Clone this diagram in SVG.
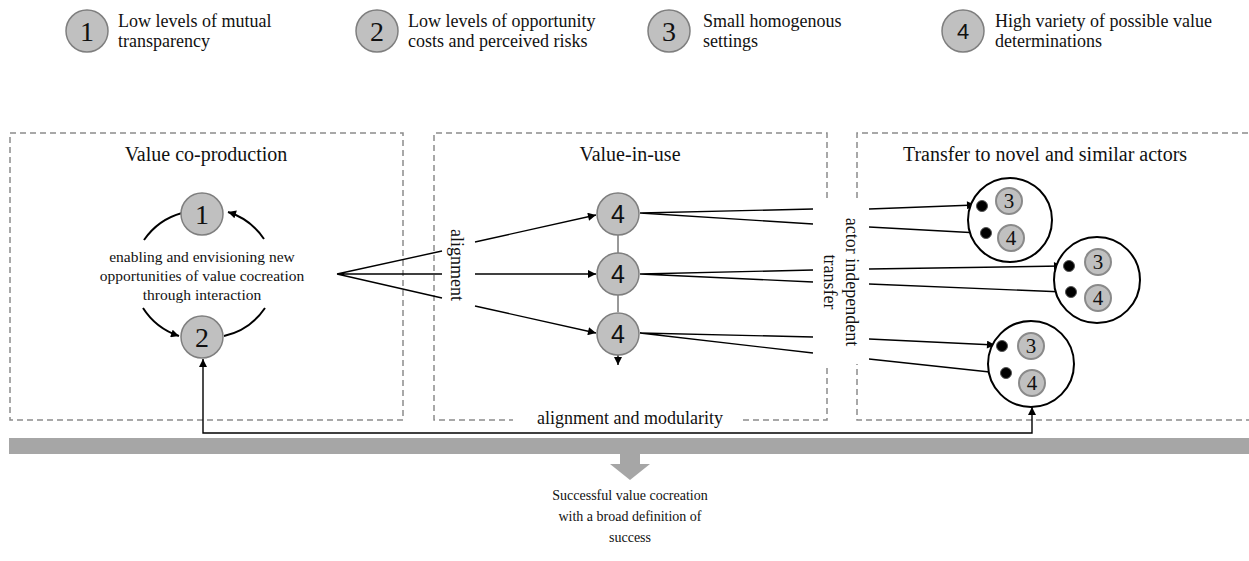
<svg xmlns="http://www.w3.org/2000/svg" width="1249" height="561" viewBox="0 0 1249 561">
  <defs>
    <marker id="arr" viewBox="0 0 10 10" refX="10" refY="5" markerWidth="9" markerHeight="8" markerUnits="userSpaceOnUse" orient="auto-start-reverse">
      <path d="M0,0 L10,5 L0,10 Z" fill="#000"/>
    </marker>
    <style>
      .t { font-family: "Liberation Serif", "Times New Roman", serif; fill: #111; }
      .s { font-family: "Liberation Sans", Arial, sans-serif; fill: #111; }
      .leg { font-size: 18px; }
      .title { font-size: 20px; text-anchor: middle; }
      .num { fill: #c0c0c0; stroke: #7f7f7f; stroke-width: 1.5; }
      .sm { fill: #c0c0c0; stroke: #8a8a8a; stroke-width: 2; }
      .box { fill: none; stroke: #8c8c8c; stroke-width: 1.5; stroke-dasharray: 6 4; }
      .ln { fill: none; stroke: #000; stroke-width: 1.4; }
      .arc { fill: none; stroke: #000; stroke-width: 2; }
      .actor { fill: #fff; stroke: #000; stroke-width: 2; }
      .dot { fill: #000; stroke: #555; stroke-width: 1; }
    </style>
  </defs>

  <!-- legend -->
  <g id="legend-1">
    <circle class="num" cx="87" cy="31" r="21"/>
    <text class="t" x="87" y="41" font-size="28" text-anchor="middle">1</text>
    <text class="t leg" x="118" y="27">Low levels of mutual</text>
    <text class="t leg" x="118" y="47">transparency</text>
  </g>
  <g id="legend-2">
    <circle class="num" cx="377" cy="31" r="21"/>
    <text class="t" x="377" y="41" font-size="28" text-anchor="middle">2</text>
    <text class="t leg" x="408" y="27">Low levels of opportunity</text>
    <text class="t leg" x="408" y="47">costs and perceived risks</text>
  </g>
  <g id="legend-3">
    <circle class="num" cx="669" cy="31" r="21"/>
    <text class="t" x="669" y="41" font-size="28" text-anchor="middle">3</text>
    <text class="t leg" x="703" y="27">Small homogenous</text>
    <text class="t leg" x="703" y="47">settings</text>
  </g>
  <g id="legend-4">
    <circle class="num" cx="963" cy="31" r="21"/>
    <text class="s" x="963" y="39" font-size="22" text-anchor="middle">4</text>
    <text class="t leg" x="995" y="27">High variety of possible value</text>
    <text class="t leg" x="995" y="47">determinations</text>
  </g>

  <!-- phase frames -->
  <g id="frame-coproduction">
    <rect class="box" x="10" y="133" width="393" height="287"/>
    <text class="t title" x="206" y="161">Value co-production</text>
  </g>
  <g id="frame-value-in-use">
    <path class="box" d="M827,198 V133 H434 V420 H513 M743,420 H827 V366"/>
    <text class="t title" x="630" y="161">Value-in-use</text>
    <text class="t" x="630" y="424" font-size="18" text-anchor="middle">alignment  and modularity</text>
  </g>
  <g id="frame-transfer">
    <path class="box" d="M857,198 V133 H1252 M1252,420 H857 V364"/>
    <text class="t title" x="1045" y="161">Transfer to novel and similar actors</text>
  </g>

  <!-- connectors -->
  <g id="connectors">
    <!-- interaction cycle -->
    <path class="arc" d="M182,213 A68,68 0 0 0 144,240"/>
    <path class="arc" d="M264,239 A68,68 0 0 0 228,212" marker-end="url(#arr)"/>
    <path class="arc" d="M143,308 A68,68 0 0 0 179,336" marker-end="url(#arr)"/>
    <path class="arc" d="M224,336 A68,68 0 0 0 265,308"/>

    <!-- alignment fan -->
    <path class="ln" d="M337,274 L442,251 M337,274 L442,274 M337,274 L442,298"/>
    <line class="ln" x1="475" y1="242" x2="596" y2="215" marker-end="url(#arr)"/>
    <line class="ln" x1="475" y1="274" x2="596" y2="274" marker-end="url(#arr)"/>
    <line class="ln" x1="475" y1="306" x2="596" y2="333" marker-end="url(#arr)"/>

    <!-- links between value determinations -->
    <path d="M618,235 V253 M618,295 V312" stroke="#333" stroke-width="1"/>
    <line class="ln" x1="618" y1="355" x2="618" y2="365" marker-end="url(#arr)"/>

    <!-- transfer lines -->
    <path class="ln" d="M640,213 L813,209 M640,213 L813,224 M640,274 L813,270 M640,274 L813,282 M640,333 L813,337 M640,333 L813,353"/>
    <line class="ln" x1="869" y1="209" x2="975" y2="205" marker-end="url(#arr)"/>
    <line class="ln" x1="869" y1="227" x2="979" y2="233" marker-end="url(#arr)"/>
    <line class="ln" x1="869" y1="269" x2="1062" y2="266" marker-end="url(#arr)"/>
    <line class="ln" x1="869" y1="284" x2="1064" y2="292" marker-end="url(#arr)"/>
    <line class="ln" x1="869" y1="339" x2="995" y2="345" marker-end="url(#arr)"/>
    <line class="ln" x1="869" y1="359" x2="999" y2="373" marker-end="url(#arr)"/>

    <!-- feedback loop -->
    <polyline class="ln" points="203,359 203,433 1032,433 1032,407" stroke-width="1.2" marker-start="url(#arr)" marker-end="url(#arr)"/>

    <!-- vertical labels -->
    <text class="t" font-size="18" text-anchor="middle" dominant-baseline="central" transform="translate(457,265) rotate(90)">alignment</text>
    <text class="t" font-size="18" text-anchor="middle" transform="translate(846,282) rotate(90)">actor independent</text>
    <text class="t" font-size="18" text-anchor="middle" transform="translate(824,282) rotate(90)">transfer</text>
  </g>

  <!-- co-production nodes -->
  <g id="node-1">
    <circle class="num" cx="202" cy="214" r="21"/>
    <text class="t" x="202" y="224" font-size="28" text-anchor="middle">1</text>
  </g>
  <g id="node-2">
    <circle class="num" cx="202" cy="337" r="21"/>
    <text class="t" x="202" y="347" font-size="28" text-anchor="middle">2</text>
  </g>
  <g id="center-text">
    <text class="t" x="202" y="262" font-size="15.5" text-anchor="middle">enabling and envisioning new</text>
    <text class="t" x="202" y="281" font-size="15.5" text-anchor="middle">opportunities of value cocreation</text>
    <text class="t" x="202" y="300" font-size="15.5" text-anchor="middle">through interaction</text>
  </g>

  <!-- value-in-use nodes -->
  <g id="node-4a">
    <circle class="num" cx="618" cy="214" r="21"/>
    <text class="s" x="618" y="223" font-size="25" text-anchor="middle">4</text>
  </g>
  <g id="node-4b">
    <circle class="num" cx="618" cy="274" r="21"/>
    <text class="s" x="618" y="283" font-size="25" text-anchor="middle">4</text>
  </g>
  <g id="node-4c">
    <circle class="num" cx="618" cy="334" r="21"/>
    <text class="s" x="618" y="343" font-size="25" text-anchor="middle">4</text>
  </g>

  <!-- actors -->
  <g id="actor-a">
    <circle class="actor" cx="1010" cy="220" r="42"/>
    <circle class="dot" cx="982" cy="206" r="5.5"/>
    <circle class="dot" cx="986" cy="233" r="5.5"/>
    <circle class="sm" cx="1009" cy="201" r="13"/>
    <text class="t" x="1009" y="208" font-size="21" text-anchor="middle">3</text>
    <circle class="sm" cx="1011" cy="238" r="13"/>
    <text class="t" x="1011" y="245" font-size="21" text-anchor="middle">4</text>
  </g>
  <g id="actor-b">
    <circle class="actor" cx="1097" cy="280" r="43"/>
    <circle class="dot" cx="1069" cy="266" r="5.5"/>
    <circle class="dot" cx="1071" cy="292" r="5.5"/>
    <circle class="sm" cx="1098" cy="262" r="13"/>
    <text class="t" x="1098" y="269" font-size="21" text-anchor="middle">3</text>
    <circle class="sm" cx="1098" cy="298" r="13"/>
    <text class="t" x="1098" y="305" font-size="21" text-anchor="middle">4</text>
  </g>
  <g id="actor-c">
    <circle class="actor" cx="1031" cy="364" r="43"/>
    <circle class="dot" cx="1002" cy="346" r="5.5"/>
    <circle class="dot" cx="1006" cy="373" r="5.5"/>
    <circle class="sm" cx="1031" cy="346" r="13"/>
    <text class="t" x="1031" y="353" font-size="21" text-anchor="middle">3</text>
    <circle class="sm" cx="1032" cy="383" r="13"/>
    <text class="t" x="1032" y="390" font-size="21" text-anchor="middle">4</text>
  </g>

  <!-- outcome -->
  <g id="outcome">
    <rect x="9" y="438" width="1240" height="16" fill="#a6a6a6"/>
    <polygon points="620,454 640,454 640,464 650,464 630,480 610,464 620,464" fill="#a6a6a6"/>
    <text class="t" x="630" y="500" font-size="14" text-anchor="middle">Successful value cocreation</text>
    <text class="t" x="630" y="521" font-size="14" text-anchor="middle">with a broad definition of</text>
    <text class="t" x="630" y="542" font-size="14" text-anchor="middle">success</text>
  </g>
</svg>
